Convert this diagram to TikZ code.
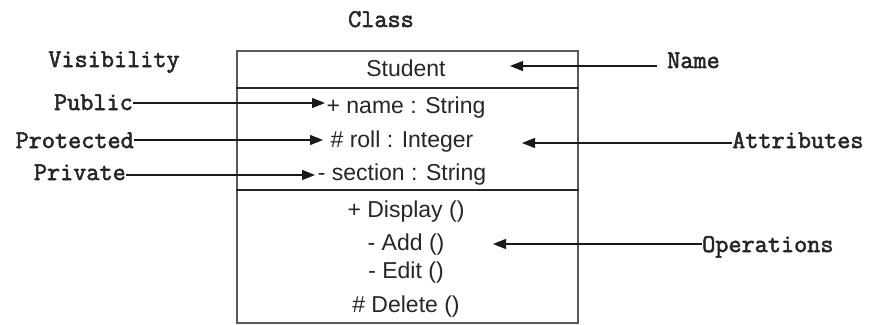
\documentclass[tikz,border=0pt]{standalone}
\usepackage{fontspec}
\setmainfont{Liberation Sans}
\newfontfamily\labelfont{Latin Modern Mono}[FakeBold=2.2]
\usetikzlibrary{arrows.meta}

\begin{document}
\begin{tikzpicture}[x=1pt,y=-1pt,
  member/.style={font=\fontsize{23}{25}\selectfont, text=black!85, inner sep=0pt, anchor=base},
  tag/.style={font=\labelfont\fontsize{25.5}{27}\selectfont, text=black!85, inner sep=0pt},
  pointer/.style={draw=black!90, line width=1.4pt, -{Triangle[length=13pt,width=10pt]}},
  frame/.style={draw=black!65, line width=1.6pt},
  divider/.style={draw=black!85, line width=2.2pt}]
\useasboundingbox (0,0) rectangle (870,324);

% class box and its compartments
\node[frame, minimum width=341pt, minimum height=272pt, inner sep=0pt, anchor=north west] (cls) at (236,50) {};
\coordinate (d1) at (0,88);
\coordinate (d2) at (0,190);
\draw[divider] (cls.west |- d1) -- (cls.east |- d1);
\draw[divider] (cls.west |- d2) -- (cls.east |- d2);

% class name, attributes and operations
\node[member] (student) at (406,76) {Student};
\node[member] (aname)   at (406,113) {+ name : String};
\node[member] (aroll)   at (402,147) {\# roll : Integer};
\node[member] (asect)   at (402,180) {- section : String};
\node[member] (odisp)   at (406,217) {+ Display ()};
\node[member] (oadd)    at (406,250) {- Add ()};
\node[member] (oedit)   at (406,278) {- Edit ()};
\node[member] (odel)    at (406,312) {\# Delete ()};

% headings
\node[tag, anchor=base] (title) at (381,27) {Class};
\node[tag, anchor=base] (vis)   at (114,67) {Visibility};

% visibility labels
\node[tag, anchor=base east] (pub)  at (133,110) {Public};
\node[tag, anchor=base east] (prot) at (134,148) {Protected};
\node[tag, anchor=base east] (priv) at (126,180) {Private};

% part labels
\node[tag, anchor=base west] (nm)   at (667,68)  {Name};
\node[tag, anchor=base west] (attr) at (732,148) {Attributes};
\node[tag, anchor=base west] (ops)  at (702,252) {Operations};

% arrow tips
\coordinate (pubTip)  at (325,103);
\coordinate (protTip) at (323,140);
\coordinate (privTip) at (315,175);
\coordinate (nmTip)   at (510,66);
\coordinate (attrTip) at (522,143);
\coordinate (opsTip)  at (493,244);

\draw[pointer] (pub.east |- pubTip) -- (pubTip);
\draw[pointer] (prot.east |- protTip) -- (protTip);
\draw[pointer] (priv.east |- privTip) -- (privTip);
\draw[pointer, shorten <=10pt] (nm.west |- nmTip) -- (nmTip);
\draw[pointer] (attr.west |- attrTip) -- (attrTip);
\draw[pointer] (ops.west |- opsTip) -- (opsTip);
\end{tikzpicture}
\end{document}
